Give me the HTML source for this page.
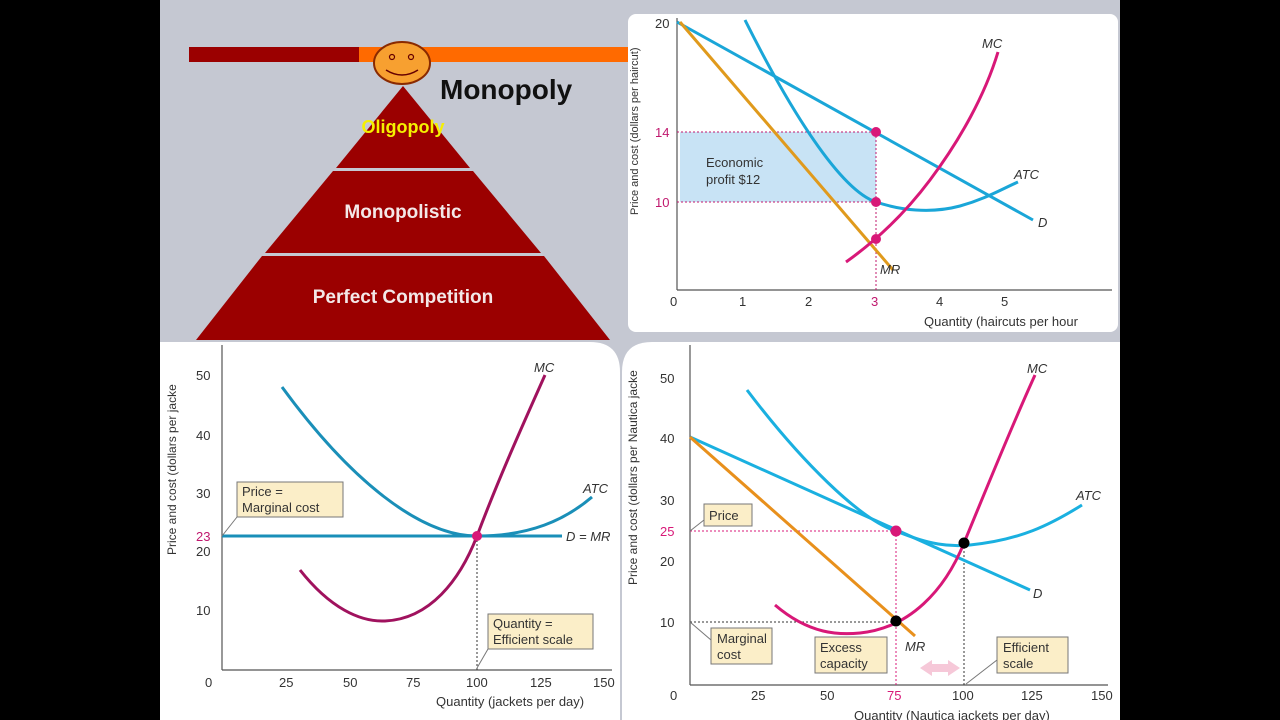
<!DOCTYPE html>
<html><head><meta charset="utf-8"><style>
html,body{margin:0;padding:0;width:1280px;height:720px;overflow:hidden;background:#000}
svg text{font-family:"Liberation Sans",sans-serif}
</style></head><body>
<svg width="1280" height="720" viewBox="0 0 1280 720" xmlns="http://www.w3.org/2000/svg">
<rect x="0" y="0" width="1280" height="720" fill="#000"/>
<rect x="160" y="0" width="960" height="720" fill="#c5c8d2"/>
<!-- top bar -->
<rect x="189" y="47" width="170" height="15" fill="#9b0000"/>
<rect x="359" y="47" width="270" height="15" fill="#ff6a00"/>
<ellipse cx="402" cy="63" rx="28" ry="21" fill="#f7a030" stroke="#8a2a00" stroke-width="2"/>
<circle cx="392" cy="57" r="2.5" fill="none" stroke="#600" stroke-width="1.2"/>
<circle cx="411" cy="57" r="2.5" fill="none" stroke="#600" stroke-width="1.2"/>
<path d="M386 70 Q402 80 418 70" fill="none" stroke="#600" stroke-width="1.5"/>
<text x="440" y="99" font-size="28" font-weight="bold" fill="#111">Monopoly</text>
<!-- pyramid -->
<polygon points="403,86 470,168 336,168" fill="#9b0000"/>
<polygon points="333,171 473,171 541,253 265,253" fill="#9b0000"/>
<polygon points="262,256 544,256 610,340 196,340" fill="#9b0000"/>
<text x="403" y="133" font-size="18" font-weight="bold" fill="#f5f000" text-anchor="middle">Oligopoly</text>
<text x="403" y="218" font-size="19" font-weight="bold" fill="#f3e8e8" text-anchor="middle">Monopolistic</text>
<text x="403" y="303" font-size="19" font-weight="bold" fill="#f3e8e8" text-anchor="middle">Perfect Competition</text>

<!-- TOP RIGHT panel -->
<rect x="628" y="14" width="490" height="318" rx="8" fill="#fff"/>
<rect x="680" y="132" width="196" height="70" fill="#c8e3f5"/>
<line x1="677" y1="18" x2="677" y2="290" stroke="#555" stroke-width="1.2"/>
<line x1="677" y1="290" x2="1112" y2="290" stroke="#555" stroke-width="1.2"/>
<g stroke="#c0186e" stroke-width="1" stroke-dasharray="2,2"><line x1="677" y1="132" x2="876" y2="132"/><line x1="677" y1="202" x2="876" y2="202"/><line x1="876" y1="132" x2="876" y2="290"/></g>
<path d="M677 22 L1033 220" stroke="#1aa6d8" stroke-width="3" fill="none"/>
<path d="M680 22 L893 270" stroke="#e09a1c" stroke-width="3" fill="none"/>
<path d="M745 20 C790 110, 840 190, 876 202 C900 210, 930 214, 960 206 C985 199, 1000 190, 1018 182" stroke="#1aa6d8" stroke-width="3" fill="none"/>
<path d="M846 262 C870 245, 900 220, 930 180 C960 140, 985 95, 998 52" stroke="#d81878" stroke-width="3" fill="none"/>
<circle cx="876" cy="132" r="5" fill="#d81878"/><circle cx="876" cy="202" r="5" fill="#d81878"/><circle cx="876" cy="239" r="5" fill="#d81878"/>
<g font-size="13" fill="#333"><text x="670" y="306">0</text><text x="739" y="306">1</text><text x="805" y="306">2</text><text x="871" y="306" fill="#c0186e">3</text><text x="936" y="306">4</text><text x="1001" y="306">5</text>
<text x="655" y="28">20</text><text x="655" y="137" fill="#c0186e">14</text><text x="655" y="207" fill="#c0186e">10</text>
<text x="924" y="326" font-size="13">Quantity (haircuts per hour</text>
<text x="706" y="167">Economic</text><text x="706" y="184">profit $12</text>
<text font-style="italic" x="982" y="48">MC</text><text font-style="italic" x="1014" y="179">ATC</text><text font-style="italic" x="1038" y="227">D</text><text font-style="italic" x="880" y="274">MR</text>
<text transform="translate(638,215) rotate(-90)" font-size="11">Price and cost (dollars per haircut)</text></g>

<!-- BOTTOM LEFT panel -->
<path d="M160 342 L590 342 Q620 342 620 372 L620 720 L160 720 Z" fill="#fff"/>
<line x1="222" y1="345" x2="222" y2="670" stroke="#555" stroke-width="1.2"/>
<line x1="222" y1="670" x2="612" y2="670" stroke="#555" stroke-width="1.2"/>
<line x1="477" y1="536" x2="477" y2="670" stroke="#333" stroke-dasharray="2,2"/>
<line x1="222" y1="536" x2="562" y2="536" stroke="#1a8fb8" stroke-width="3"/>
<path d="M282 387 C350 480, 420 536, 477 536 C530 536, 565 520, 592 497" stroke="#1a8fb8" stroke-width="3" fill="none"/>
<path d="M300 570 C330 608, 360 622, 385 621 C430 619, 460 580, 477 536 C500 475, 525 420, 545 375" stroke="#a0125e" stroke-width="3" fill="none"/>
<circle cx="477" cy="536" r="5" fill="#d81878"/>
<rect x="237" y="482" width="106" height="35" fill="#fbeec8" stroke="#777"/>
<rect x="488" y="614" width="105" height="35" fill="#fbeec8" stroke="#777"/>
<line x1="237" y1="517" x2="222" y2="536" stroke="#777"/><line x1="488" y1="649" x2="477" y2="668" stroke="#777"/>
<g font-size="13" fill="#333"><text x="242" y="496">Price =</text><text x="242" y="512">Marginal cost</text>
<text x="493" y="628">Quantity =</text><text x="493" y="644">Efficient scale</text>
<text x="196" y="380">50</text><text x="196" y="440">40</text><text x="196" y="498">30</text><text x="196" y="541" fill="#c0186e">23</text><text x="196" y="556">20</text><text x="196" y="615">10</text>
<text x="205" y="687">0</text><text x="279" y="687">25</text><text x="343" y="687">50</text><text x="406" y="687">75</text><text x="466" y="687">100</text><text x="530" y="687">125</text><text x="593" y="687">150</text>
<text x="436" y="706">Quantity (jackets per day)</text>
<text font-style="italic" x="534" y="372">MC</text><text font-style="italic" x="583" y="493">ATC</text><text font-style="italic" x="566" y="541">D = MR</text>
<text transform="translate(176,555) rotate(-90)" font-size="12">Price and cost (dollars per jacke</text></g>

<!-- BOTTOM RIGHT panel -->
<path d="M652 342 L1120 342 L1120 720 L622 720 L622 372 Q622 342 652 342 Z" fill="#fff"/>
<line x1="690" y1="345" x2="690" y2="685" stroke="#555" stroke-width="1.2"/>
<line x1="690" y1="685" x2="1108" y2="685" stroke="#555" stroke-width="1.2"/>
<g stroke-dasharray="2,2"><line x1="690" y1="531" x2="896" y2="531" stroke="#d81878"/><line x1="896" y1="531" x2="896" y2="685" stroke="#d81878"/>
<line x1="690" y1="622" x2="896" y2="622" stroke="#333"/><line x1="964" y1="543" x2="964" y2="685" stroke="#333"/></g>
<path d="M690 437 L1030 590" stroke="#1ab0e0" stroke-width="3" fill="none"/>
<path d="M690 437 L915 636" stroke="#e8901c" stroke-width="3" fill="none"/>
<path d="M747 390 C800 460, 860 520, 896 531 C930 545, 950 547, 970 545 C1020 540, 1050 525, 1082 505" stroke="#1ab0e0" stroke-width="3" fill="none"/>
<path d="M775 605 C810 635, 840 635, 860 633 C910 628, 945 590, 964 543 C990 480, 1010 430, 1035 375" stroke="#d81878" stroke-width="3" fill="none"/>
<circle cx="896" cy="531" r="5.5" fill="#d81878"/><circle cx="896" cy="621" r="5.5" fill="#000"/><circle cx="964" cy="543" r="5.5" fill="#000"/>
<path d="M920 668 L932 660 L932 664 L948 664 L948 660 L960 668 L948 676 L948 672 L932 672 L932 676 Z" fill="#f6c8d8"/>
<rect x="704" y="504" width="48" height="22" fill="#fbeec8" stroke="#777"/>
<rect x="711" y="628" width="61" height="36" fill="#fbeec8" stroke="#777"/>
<rect x="815" y="637" width="72" height="36" fill="#fbeec8" stroke="#777"/>
<rect x="997" y="637" width="71" height="36" fill="#fbeec8" stroke="#777"/>
<line x1="704" y1="520" x2="690" y2="531" stroke="#777"/><line x1="711" y1="640" x2="690" y2="622" stroke="#777"/><line x1="997" y1="660" x2="966" y2="684" stroke="#777"/>
<g font-size="13" fill="#333"><text x="709" y="520">Price</text><text x="717" y="643">Marginal</text><text x="717" y="659">cost</text>
<text x="820" y="652">Excess</text><text x="820" y="668">capacity</text><text x="1003" y="652">Efficient</text><text x="1003" y="668">scale</text>
<text x="660" y="383">50</text><text x="660" y="443">40</text><text x="660" y="505">30</text><text x="660" y="536" fill="#d81878">25</text><text x="660" y="566">20</text><text x="660" y="627">10</text>
<text x="670" y="700">0</text><text x="751" y="700">25</text><text x="820" y="700">50</text><text x="887" y="700" fill="#d81878">75</text><text x="952" y="700">100</text><text x="1021" y="700">125</text><text x="1091" y="700">150</text>
<text x="854" y="720">Quantity (Nautica jackets per day)</text>
<text font-style="italic" x="1027" y="373">MC</text><text font-style="italic" x="1076" y="500">ATC</text><text font-style="italic" x="1033" y="598">D</text><text font-style="italic" x="905" y="651">MR</text>
<text transform="translate(637,585) rotate(-90)" font-size="12">Price and cost (dollars per Nautica jacke</text></g>
</svg>
</body></html>
